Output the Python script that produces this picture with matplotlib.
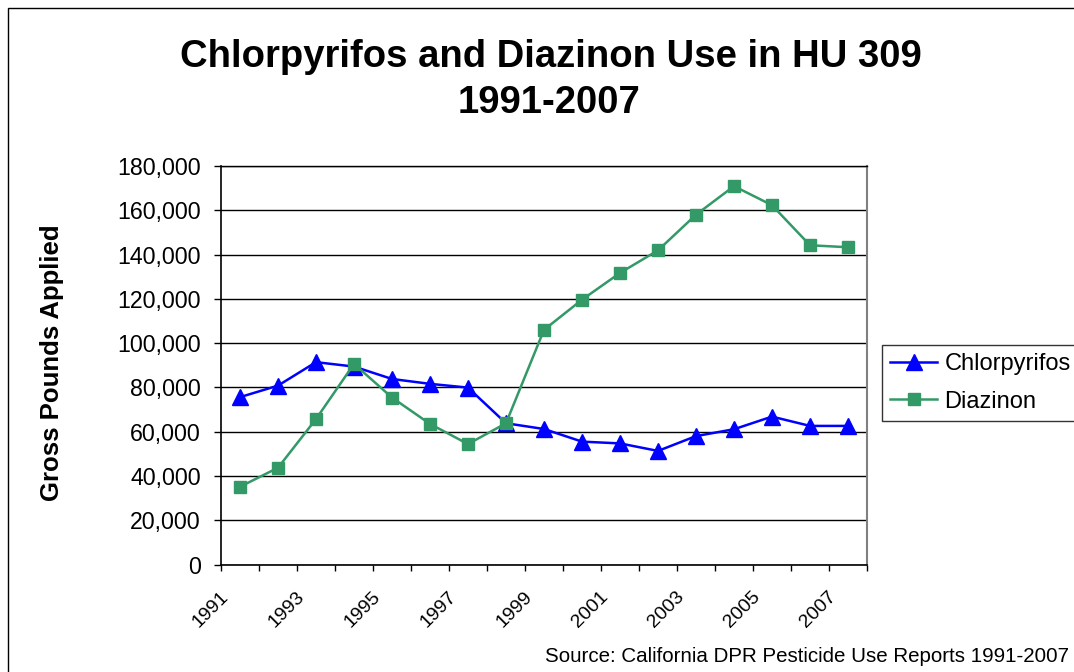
import numpy as np
import matplotlib
matplotlib.use("Agg")
import matplotlib.pyplot as plt
from matplotlib.patches import Rectangle
from matplotlib.ticker import FuncFormatter
from matplotlib.transforms import ScaledTranslation

plt.rcParams['font.family'] = ['Liberation Sans', 'DejaVu Sans']

years = list(range(1991, 2008))
chlorpyrifos = [75600, 80800, 91400, 89400, 83800, 81600, 79900, 63800, 61200,
                55500, 54700, 51300, 58000, 61100, 66800, 62600, 62600]
diazinon = [35100, 43700, 65700, 90600, 75400, 63500, 54400, 63800, 106000,
            119600, 131700, 141900, 158000, 170900, 162300, 144200, 143300]
label_years = years[::2]

W, H = 1074, 672
fig = plt.figure(figsize=(W / 100, H / 100), dpi=100)
ax = fig.add_axes([221 / W, 1 - 564.5 / H, (867 - 221) / W, (564.5 - 166) / H])

# outer chart frame (only left and top edges are inside the picture)
fig.patches.append(Rectangle((8 / W, -0.1), 1.2, 1.1 - 8 / H, transform=fig.transFigure,
                             fill=False, edgecolor='black', linewidth=1.0))

x = np.arange(len(years))
ax.plot(x, chlorpyrifos, color='#0000ff', lw=1.8, marker='^', markersize=11,
        label='Chlorpyrifos', zorder=3)
ax.plot(x, diazinon, color='#339966', lw=1.8, marker='s', markersize=9,
        label='Diazinon', zorder=3)

ax.set_xlim(-0.5, len(years) - 0.5)
ax.set_ylim(0, 180000)
ax.set_yticks(np.arange(0, 180001, 20000))
ax.yaxis.set_major_formatter(FuncFormatter(lambda v, p: f'{int(v):,}'))
ax.tick_params(axis='y', labelsize=16.7, length=5, width=1, direction='out', pad=9.5)
ax.yaxis.grid(True, color='black', linewidth=1.0)
ax.set_axisbelow(True)

# category boundaries as ticks, year labels on every other category
ax.set_xticks(np.arange(-0.5, len(years), 1.0))
ax.set_xticklabels([])
ax.tick_params(axis='x', which='major', length=4, width=1, direction='out')
shift = ScaledTranslation(-14 / 100, -30 / 100, fig.dpi_scale_trans)
for xi, yr in zip(x[::2], label_years):
    ax.text(xi, 0, str(yr), transform=ax.get_xaxis_transform() + shift,
            rotation=45, ha='right', va='center', rotation_mode='anchor', fontsize=14)

for side in ['left', 'bottom']:
    ax.spines[side].set_color('black')
    ax.spines[side].set_linewidth(1.2)
ax.spines['right'].set_color('#808080')
ax.spines['right'].set_linewidth(1.5)
ax.spines['top'].set_color('black')
ax.spines['top'].set_linewidth(1.0)

fig.text(52 / W, 1 - 363 / H, 'Gross Pounds Applied', rotation=90, ha='center', va='center',
         fontsize=18.5, fontweight='bold')

fig.text(551 / W, 1 - 57 / H, 'Chlorpyrifos and Diazinon Use in HU 309',
         ha='center', va='center', fontsize=27.5, fontweight='bold')
fig.text(549 / W, 1 - 103 / H, '1991-2007',
         ha='center', va='center', fontsize=27.5, fontweight='bold')

leg = fig.legend(loc='upper left', bbox_to_anchor=(882 / W, 1 - 345 / H),
                 fontsize=17, frameon=True, fancybox=False, edgecolor='black',
                 borderpad=0.35, handlelength=2.0, handletextpad=0.3,
                 labelspacing=0.65, borderaxespad=0)
leg.get_frame().set_linewidth(1.0)

fig.text(1069 / W, 1 - 657 / H, 'Source: California DPR Pesticide Use Reports 1991-2007',
         ha='right', va='center', fontsize=14.8)

fig.savefig('out.png', dpi=100)
